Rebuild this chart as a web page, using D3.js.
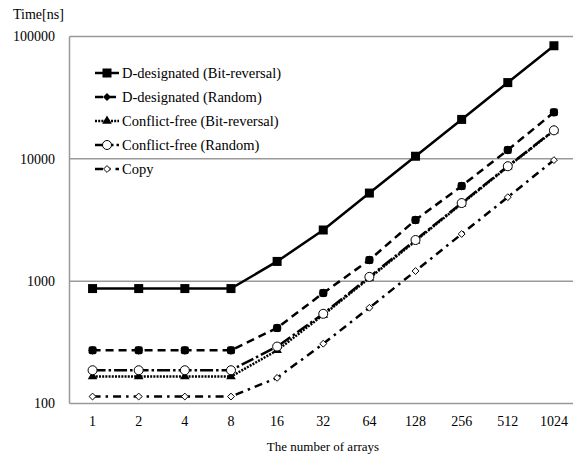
<!DOCTYPE html>
<html>
<head>
<meta charset="utf-8">
<script src="https://cdn.jsdelivr.net/npm/d3@7"></script>
<style>
  body { margin: 0; background: #fff; }
  text { font-family: "Liberation Serif", "Times New Roman", serif; fill: #000; }
</style>
</head>
<body>
<svg id="chart" width="573" height="458"></svg>
<script>
// data
const arrays = ["1", "2", "4", "8", "16", "32", "64", "128", "256", "512", "1024"];
const dBitRev = [870, 870, 870, 870, 1450, 2620, 5250, 10500, 21000, 42000, 84000];
const dRandom = [272, 272, 272, 272, 415, 800, 1490, 3160, 6000, 11800, 24000];
const cfBitRev = [166, 166, 166, 166, 272, 530, 1060, 2130, 4300, 8600, 17000];
const cfRandom = [187, 187, 187, 187, 292, 541, 1084, 2170, 4350, 8700, 17100];
const copy = [114, 114, 114, 114, 162, 308, 606, 1210, 2430, 4860, 9760];
const yTicks = [100, 1000, 10000, 100000];

const series = [
  { name: "D-designated (Bit-reversal)", values: dBitRev, dash: null, marker: "square" },
  { name: "D-designated (Random)", values: dRandom, dash: "8,5", marker: "diamondFill" },
  { name: "Conflict-free (Bit-reversal)", values: cfBitRev, dash: "2,1.2", marker: "triangle" },
  { name: "Conflict-free (Random)", values: cfRandom, dash: "13,3,2.5,3", marker: "circle" },
  { name: "Copy", values: copy, dash: "8,5,2.5,5", marker: "diamond" }
];

const svg = d3.select("#chart");
const plotLeft = 69.5, plotRight = 577, plotTop = 36.5, plotBottom = 403.5;

const x = d3.scaleBand().domain(arrays).range([plotLeft, plotRight]);
const y = d3.scaleLog().domain([100, 100000]).range([plotBottom, plotTop]);

// gridlines
svg.selectAll("line.grid")
  .data(yTicks.slice(1))
  .enter()
  .append("line")
  .attr("x1", plotLeft)
  .attr("x2", 573)
  .attr("y1", d => y(d))
  .attr("y2", d => y(d))
  .attr("stroke", "#999")
  .attr("stroke-width", 1.5);

// axes lines
svg.append("line")
  .attr("x1", plotLeft).attr("x2", plotLeft)
  .attr("y1", plotTop).attr("y2", plotBottom)
  .attr("stroke", "#999").attr("stroke-width", 1.5);
svg.append("line")
  .attr("x1", plotLeft).attr("x2", 573)
  .attr("y1", plotBottom).attr("y2", plotBottom)
  .attr("stroke", "#999").attr("stroke-width", 1.5);

// y tick labels
svg.selectAll("text.ytick")
  .data(yTicks)
  .enter()
  .append("text")
  .attr("x", 55)
  .attr("y", d => y(d))
  .attr("dy", "0.35em")
  .attr("text-anchor", "end")
  .style("font-size", "14px")
  .text(d => d);

// x tick labels
svg.selectAll("text.xtick")
  .data(arrays)
  .enter()
  .append("text")
  .attr("x", d => x(d) + x.bandwidth() / 2)
  .attr("y", 426)
  .attr("text-anchor", "middle")
  .style("font-size", "14px")
  .text(d => d);

svg.append("text")
  .attr("x", 13).attr("y", 19)
  .style("font-size", "14px")
  .text("Time[ns]");

svg.append("text")
  .attr("x", 323).attr("y", 451)
  .attr("text-anchor", "middle")
  .style("font-size", "13px")
  .text("The number of arrays");

const drawMarker = (g, type, cx, cy, inLegend) => {
  if (type === "square") {
    g.append("rect")
      .attr("x", cx - 4.5).attr("y", cy - 4.5)
      .attr("width", 9).attr("height", 9)
      .attr("fill", "#000");
  } else if (type === "diamondFill") {
    if (!inLegend) {
      g.append("rect")
        .attr("x", cx - 4).attr("y", cy - 4)
        .attr("width", 8).attr("height", 8)
        .attr("rx", 2)
        .attr("fill", "#000");
    }
    g.append("path")
      .attr("d", d3.symbol(d3.symbolDiamond2, inLegend ? 40 : 50)())
      .attr("transform", `translate(${cx},${cy})`)
      .attr("fill", "#000");
  } else if (type === "triangle") {
    g.append("path")
      .attr("d", d3.symbol(d3.symbolTriangle, 40)())
      .attr("transform", `translate(${cx},${cy})`)
      .attr("fill", "#000");
  } else if (type === "circle") {
    g.append("circle")
      .attr("cx", cx).attr("cy", cy).attr("r", 4.5)
      .attr("fill", "#fff")
      .attr("stroke", "#000")
      .attr("stroke-width", 1);
  } else if (type === "diamond") {
    g.append("path")
      .attr("d", d3.symbol(d3.symbolDiamond2, 30)())
      .attr("transform", `translate(${cx},${cy})`)
      .attr("fill", "#fff")
      .attr("stroke", "#000")
      .attr("stroke-width", 1);
  }
};

const line = d3.line()
  .x((d, i) => x(arrays[i]) + x.bandwidth() / 2)
  .y(d => y(d));

// later series sit on top, as in the original
series.forEach(s => {
  const g = svg.append("g");
  g.append("path")
    .datum(s.values)
    .attr("d", line)
    .attr("fill", "none")
    .attr("stroke", "#000")
    .attr("stroke-width", 2.5)
    .attr("stroke-dasharray", s.dash);
  s.values.forEach((v, i) => {
    drawMarker(g, s.marker, x(arrays[i]) + x.bandwidth() / 2, y(v), false);
  });
});

// legend
const legendY = [73, 97, 121, 145, 169];
series.forEach((s, i) => {
  const g = svg.append("g");
  g.append("line")
    .attr("x1", 95).attr("x2", 119)
    .attr("y1", legendY[i]).attr("y2", legendY[i])
    .attr("stroke", "#000")
    .attr("stroke-width", 2.5)
    .attr("stroke-dasharray", s.dash);
  drawMarker(g, s.marker, 107, legendY[i], true);
  g.append("text")
    .attr("x", 122)
    .attr("y", legendY[i])
    .attr("dy", "0.35em")
    .style("font-size", "14.5px")
    .text(s.name);
});
</script>
</body>
</html>
